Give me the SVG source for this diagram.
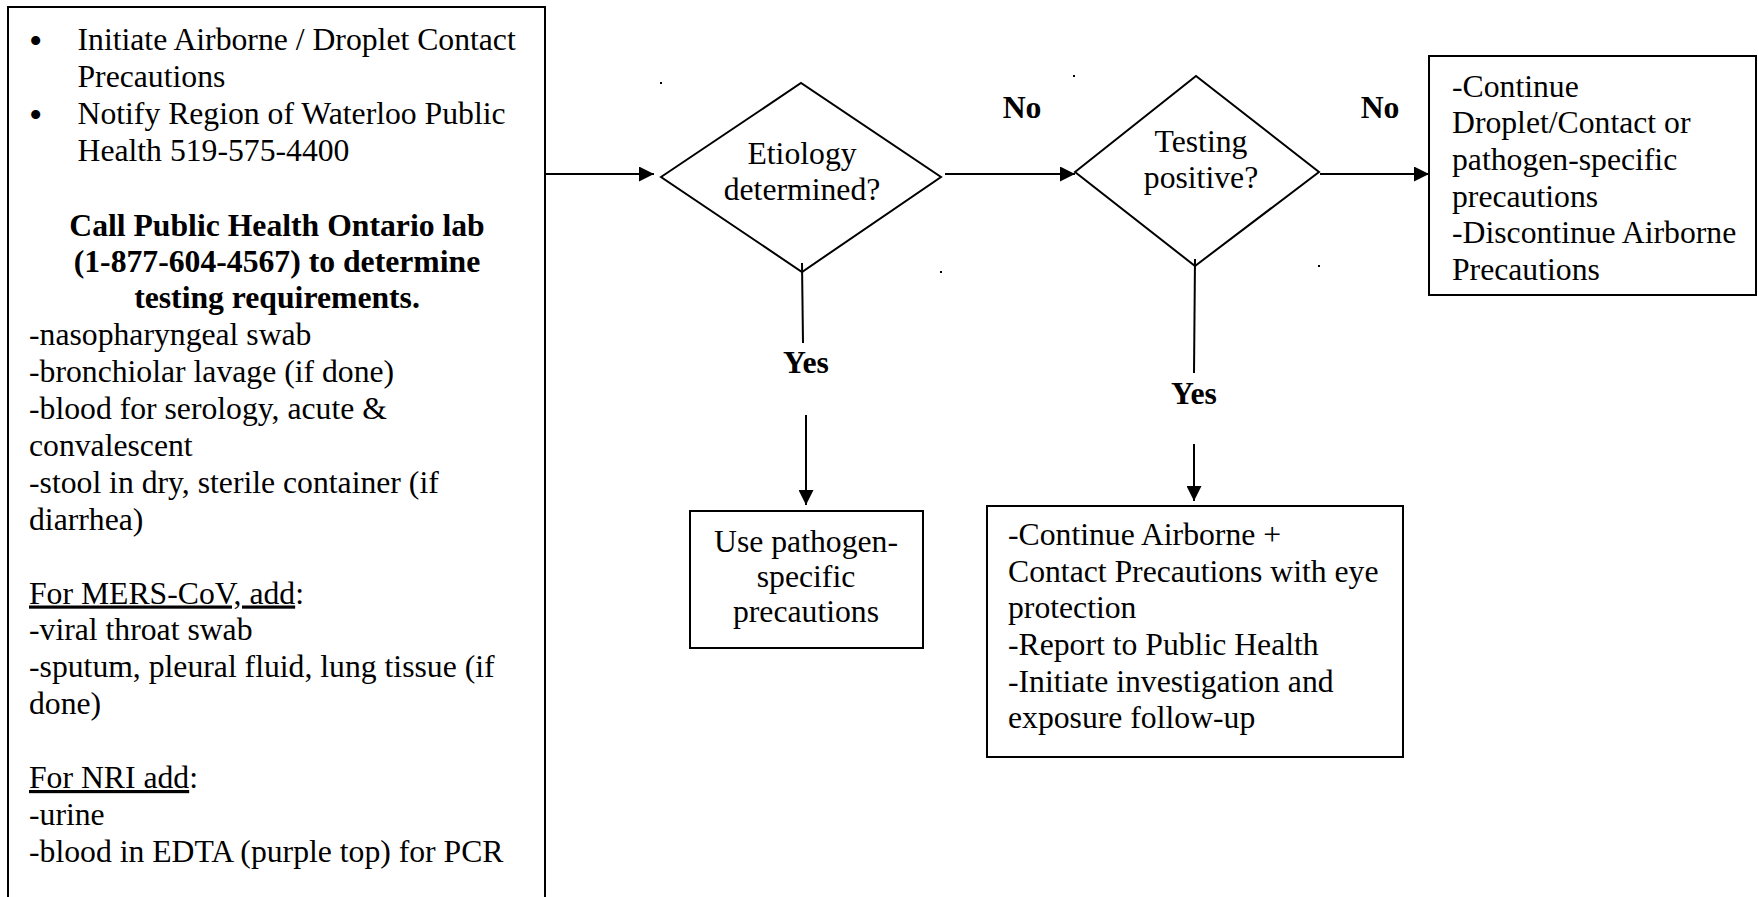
<svg xmlns="http://www.w3.org/2000/svg" width="1758" height="897" viewBox="0 0 1758 897">
<style>
text{font-family:"Liberation Serif","Times New Roman",serif;font-size:31.7px;fill:#000}
.b{font-weight:bold}
.c{text-anchor:middle}
.u{text-decoration:underline}
.bul{font-size:38px}
.box{fill:#fff;stroke:#000;stroke-width:2}
.ln{stroke:#000;stroke-width:2;fill:none}
</style>
<defs>
<marker id="ah" markerWidth="15" markerHeight="15" viewBox="0 0 15 15" refX="15" refY="7.5" orient="auto" markerUnits="userSpaceOnUse">
<path d="M0,0 L15,7.5 L0,15 Z" fill="#000"/>
</marker>
</defs>
<rect width="1758" height="897" fill="#fff"/>

<g id="start-box">
<rect class="box" x="8" y="7" width="537" height="920"/>
<text class="bul" x="29" y="54">•</text>
<text x="77.5" y="50">Initiate Airborne / Droplet Contact</text>
<text x="77.5" y="86.9">Precautions</text>
<text class="bul" x="29" y="127.8">•</text>
<text x="77.5" y="123.8">Notify Region of Waterloo Public</text>
<text x="77.5" y="160.7">Health 519-575-4400</text>
<text class="b c" x="277" y="235.5">Call Public Health Ontario lab</text>
<text class="b c" x="277" y="272">(1-877-604-4567) to determine</text>
<text class="b c" x="277" y="308.3">testing requirements.</text>
<text x="29" y="345.2">-nasopharyngeal swab</text>
<text x="29" y="382.1">-bronchiolar lavage (if done)</text>
<text x="29" y="419">-blood for serology, acute &amp;</text>
<text x="29" y="455.9">convalescent</text>
<text x="29" y="492.8">-stool in dry, sterile container (if</text>
<text x="29" y="529.7">diarrhea)</text>
<text x="29" y="603.5"><tspan class="u">For MERS-CoV, add</tspan>:</text>
<text x="29" y="640.4">-viral throat swab</text>
<text x="29" y="677.3">-sputum, pleural fluid, lung tissue (if</text>
<text x="29" y="714.2">done)</text>
<text x="29" y="788"><tspan class="u">For NRI add</tspan>:</text>
<text x="29" y="824.9">-urine</text>
<text x="29" y="861.8">-blood in EDTA (purple top) for PCR</text>
</g>

<g id="decision-etiology">
<polygon class="ln" points="661,177 801,83 941,177 802,272"/>
<text class="c" x="802" y="164">Etiology</text>
<text class="c" x="802" y="200">determined?</text>
</g>

<g id="decision-testing">
<polygon class="ln" points="1075,172 1196,76 1319,172 1195,266"/>
<text class="c" x="1201" y="152">Testing</text>
<text class="c" x="1201" y="188">positive?</text>
</g>

<g id="box-discontinue">
<rect class="box" x="1429" y="56" width="327" height="239"/>
<text x="1452" y="97">-Continue</text>
<text x="1452" y="133">Droplet/Contact or</text>
<text x="1452" y="170">pathogen-specific</text>
<text x="1452" y="207">precautions</text>
<text x="1452" y="243">-Discontinue Airborne</text>
<text x="1452" y="280">Precautions</text>
</g>

<g id="box-pathogen">
<rect class="box" x="690" y="511" width="233" height="137"/>
<text class="c" x="806" y="552">Use pathogen-</text>
<text class="c" x="806" y="587">specific</text>
<text class="c" x="806" y="622">precautions</text>
</g>

<g id="box-positive">
<rect class="box" x="987" y="506" width="416" height="251"/>
<text x="1008" y="545">-Continue Airborne +</text>
<text x="1008" y="582">Contact Precautions with eye</text>
<text x="1008" y="618">protection</text>
<text x="1008" y="655">-Report to Public Health</text>
<text x="1008" y="692">-Initiate investigation and</text>
<text x="1008" y="728">exposure follow-up</text>
</g>

<g id="connectors">
<line class="ln" x1="545" y1="174" x2="654" y2="174" marker-end="url(#ah)"/>
<line class="ln" x1="945" y1="174" x2="1075" y2="174" marker-end="url(#ah)"/>
<line class="ln" x1="1320" y1="174" x2="1429" y2="174" marker-end="url(#ah)"/>
<line class="ln" x1="802" y1="263" x2="803" y2="343"/>
<line class="ln" x1="806" y1="415" x2="806" y2="505" marker-end="url(#ah)"/>
<line class="ln" x1="1195" y1="259" x2="1194" y2="373"/>
<line class="ln" x1="1194" y1="444" x2="1194" y2="501" marker-end="url(#ah)"/>
<text class="b c" x="1022" y="118">No</text>
<text class="b c" x="1380" y="118">No</text>
<text class="b c" x="806" y="373">Yes</text>
<text class="b c" x="1194" y="404">Yes</text>
</g>

<g id="marks" fill="#000">
<rect x="660" y="82" width="2" height="2"/>
<rect x="940" y="271" width="2" height="2"/>
<rect x="1073" y="75" width="2" height="2"/>
<rect x="1318" y="265" width="2" height="2"/>
</g>
</svg>
